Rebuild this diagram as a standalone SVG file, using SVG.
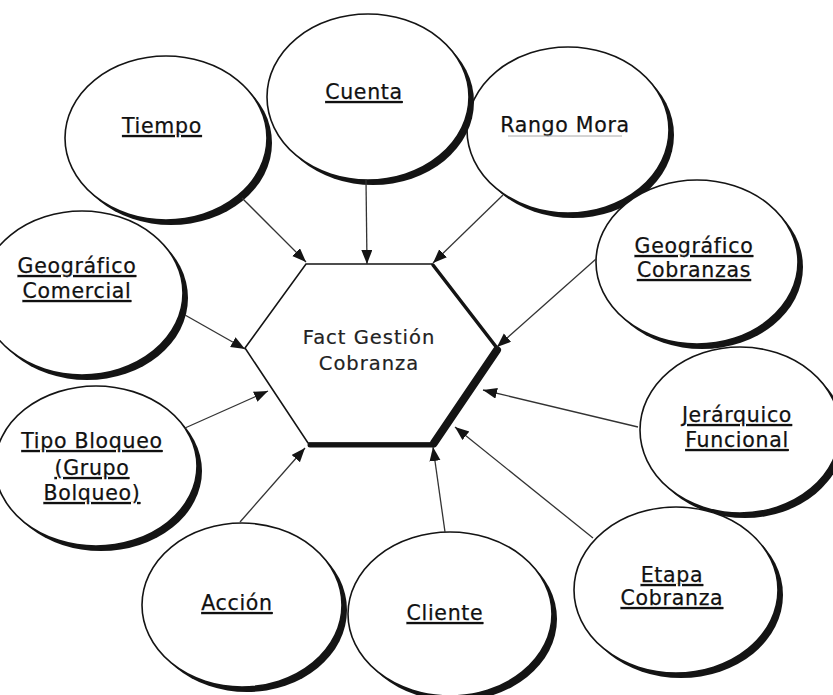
<svg xmlns="http://www.w3.org/2000/svg" width="833" height="695" viewBox="0 0 833 695">
  <style>
    .shadow { fill: #141414; }
    .body { fill: #ffffff; stroke: #141414; stroke-width: 1.6; }
    .label { font-family: "DejaVu Sans", Verdana, sans-serif; font-size: 20.5px; letter-spacing: 0.7px; fill: #111; stroke: #111; stroke-width: 0.25; text-anchor: middle; text-decoration: underline; }
    .plain { text-decoration: none; }
    .hex-label { font-family: "DejaVu Sans", Verdana, sans-serif; font-size: 19.5px; letter-spacing: 1px; fill: #222; stroke: #222; stroke-width: 0.2; text-anchor: middle; }
    .link { stroke: #333; stroke-width: 1.3; fill: none; marker-end: url(#arrow); }
    .hex { fill: #ffffff; stroke: #141414; stroke-width: 1.6; stroke-linejoin: miter; }
    .hex-edge { stroke: #141414; fill: none; stroke-linecap: round; }
  </style>
  <defs>
    <marker id="arrow" markerUnits="userSpaceOnUse" markerWidth="15" markerHeight="12" refX="14" refY="5.5" orient="auto">
      <path d="M0,0 L14,5.5 L0,11 z" fill="#141414"/>
    </marker>
  </defs>

  <rect width="833" height="695" fill="#ffffff"/>

  <!-- dimension bubbles: a dark offset ellipse gives the crescent shadow -->
  <g id="rango-mora">
    <ellipse class="shadow" cx="573" cy="135" rx="101" ry="83"/>
    <ellipse class="body" cx="568" cy="130" rx="101" ry="83"/>
    <text class="label plain" x="565" y="132">Rango Mora</text>
    <line x1="508" y1="136" x2="622" y2="136" stroke="#aaa" stroke-width="1"/>
  </g>
  <g id="cuenta">
    <ellipse class="shadow" cx="373" cy="102" rx="101" ry="83"/>
    <ellipse class="body" cx="368" cy="97" rx="101" ry="83"/>
    <text class="label" x="364" y="99">Cuenta</text>
  </g>
  <g id="tiempo">
    <ellipse class="shadow" cx="171" cy="143" rx="101" ry="82"/>
    <ellipse class="body" cx="166" cy="138" rx="101" ry="82"/>
    <text class="label" x="162" y="133">Tiempo</text>
  </g>
  <g id="geografico-cobranzas">
    <ellipse class="shadow" cx="702" cy="267" rx="101" ry="82"/>
    <ellipse class="body" cx="697" cy="262" rx="101" ry="82"/>
    <text class="label" x="694" y="253">Geográfico</text>
    <text class="label" x="694" y="277">Cobranzas</text>
  </g>
  <g id="geografico-comercial">
    <ellipse class="shadow" cx="87" cy="298" rx="101" ry="82"/>
    <ellipse class="body" cx="82" cy="293" rx="101" ry="82"/>
    <text class="label" x="77" y="273">Geográfico</text>
    <text class="label" x="77" y="298">Comercial</text>
  </g>
  <g id="tipo-bloqueo">
    <ellipse class="shadow" cx="101" cy="471" rx="101" ry="80"/>
    <ellipse class="body" cx="96" cy="466" rx="101" ry="80"/>
    <text class="label" x="92" y="448">Tipo Bloqueo</text>
    <text class="label" x="92" y="475">(Grupo</text>
    <text class="label" x="92" y="500">Bolqueo)</text>
  </g>
  <g id="jerarquico-funcional">
    <ellipse class="shadow" cx="745" cy="435" rx="100" ry="83"/>
    <ellipse class="body" cx="740" cy="430" rx="100" ry="83"/>
    <text class="label" x="737" y="422">Jerárquico</text>
    <text class="label" x="737" y="447">Funcional</text>
  </g>
  <g id="etapa-cobranza">
    <ellipse class="shadow" cx="681" cy="595" rx="102" ry="83"/>
    <ellipse class="body" cx="676" cy="590" rx="102" ry="83"/>
    <text class="label" x="672" y="582">Etapa</text>
    <text class="label" x="672" y="605">Cobranza</text>
  </g>
  <g id="accion">
    <ellipse class="shadow" cx="247" cy="610" rx="100" ry="82"/>
    <ellipse class="body" cx="242" cy="605" rx="100" ry="82"/>
    <text class="label" x="237" y="610">Acción</text>
  </g>
  <g id="cliente">
    <ellipse class="shadow" cx="455" cy="619" rx="102" ry="82"/>
    <ellipse class="body" cx="450" cy="614" rx="102" ry="82"/>
    <text class="label" x="445" y="620">Cliente</text>
  </g>

  <!-- central fact table -->
  <g id="fact-gestion-cobranza">
    <polygon class="hex" points="306,264 432,264 497,348 432,443 308,443 245,348"/>
    <line class="hex-edge" x1="433" y1="265" x2="497" y2="348" stroke-width="3.5"/>
    <line class="hex-edge" x1="497" y1="350" x2="434" y2="443" stroke-width="8"/>
    <line class="hex-edge" x1="310" y1="445" x2="434" y2="445" stroke-width="5"/>
    <text class="hex-label" x="369" y="344">Fact Gestión</text>
    <text class="hex-label" x="369" y="370">Cobranza</text>
  </g>

  <!-- connectors: each dimension points at the fact table -->
  <g id="connectors">
    <line class="link" x1="242" y1="198" x2="306" y2="262"/>
    <line class="link" x1="366" y1="180" x2="367" y2="264"/>
    <line class="link" x1="503" y1="195" x2="433" y2="263"/>
    <line class="link" x1="596" y1="259" x2="497" y2="347"/>
    <line class="link" x1="638" y1="427" x2="483" y2="390"/>
    <line class="link" x1="593" y1="538" x2="455" y2="427"/>
    <line class="link" x1="445" y1="532" x2="433" y2="447"/>
    <line class="link" x1="240" y1="522" x2="305" y2="448"/>
    <line class="link" x1="185" y1="428" x2="268" y2="391"/>
    <line class="link" x1="185" y1="315" x2="245" y2="349"/>
  </g>
</svg>
